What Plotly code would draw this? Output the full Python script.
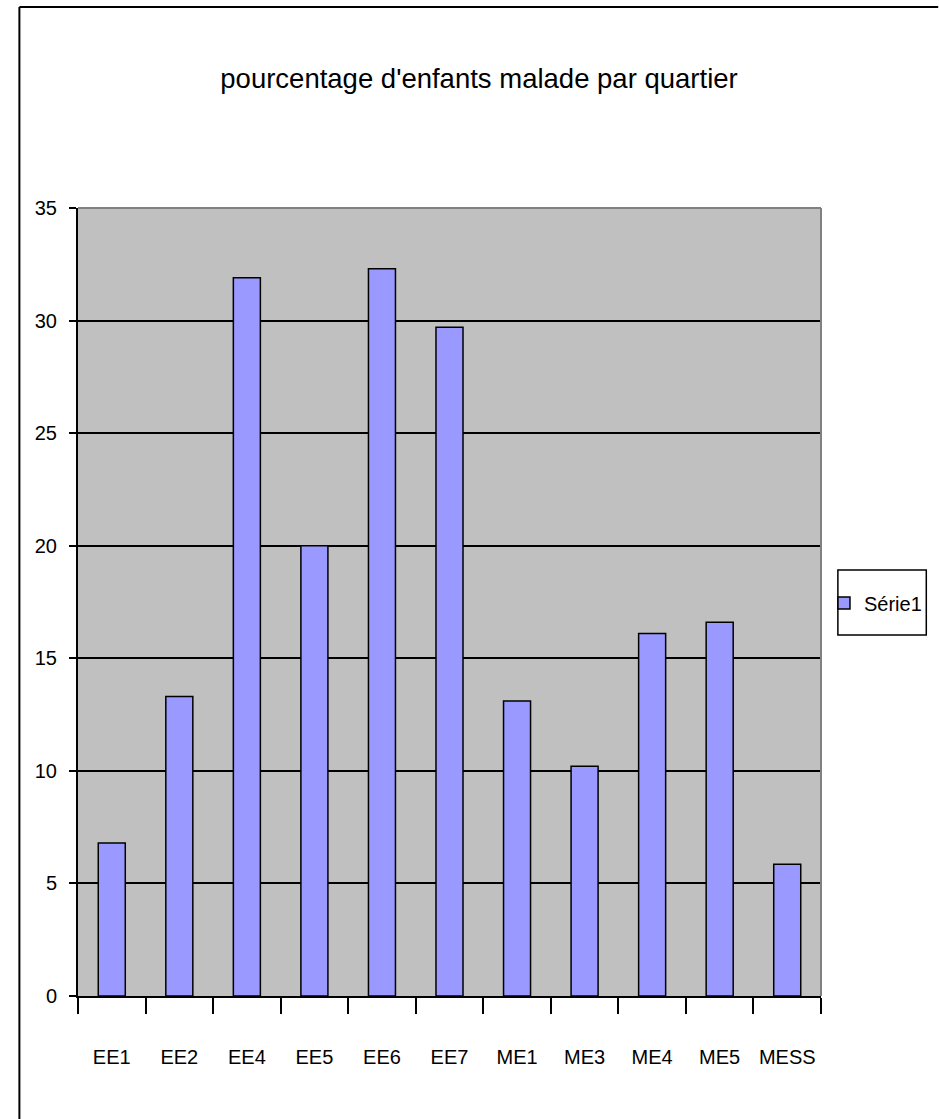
import plotly.graph_objects as go

categories = ["EE1", "EE2", "EE4", "EE5", "EE6", "EE7", "ME1", "ME3", "ME4", "ME5", "MESS"]
values = [6.8, 13.3, 31.9, 20.0, 32.3, 29.7, 13.1, 10.2, 16.1, 16.6, 5.85]
series_name = "Série1"
title_text = "pourcentage d'enfants malade par quartier"
y_ticks = [0, 5, 10, 15, 20, 25, 30, 35]

FONT = "Liberation Sans, Arial, sans-serif"

W, H = 939, 1119
L, R, T, B = 78, 113, 208, 123
pw, ph = W - L - R, H - T - B

def px_x(x):
    return (x - L) / pw

def px_y(y):
    return (H - B - y) / ph

fig = go.Figure()
fig.add_trace(go.Bar(
    x=categories, y=values, name=series_name,
    marker=dict(color="#9999FF", line=dict(color="black", width=1.5)),
    showlegend=True,
))

shapes = [
    dict(type="line", xref="paper", yref="paper", x0=0, x1=1, y0=1, y1=1,
         line=dict(color="#808080", width=2), layer="above"),
    dict(type="line", xref="paper", yref="paper", x0=1, x1=1, y0=0, y1=1,
         line=dict(color="#808080", width=2), layer="above"),
    dict(type="line", xref="paper", yref="paper", x0=px_x(19), x1=px_x(19),
         y0=px_y(7), y1=px_y(H + 5), line=dict(color="black", width=2)),
    dict(type="line", xref="paper", yref="paper", x0=px_x(19), x1=px_x(W + 5),
         y0=px_y(7), y1=px_y(7), line=dict(color="black", width=2)),
    dict(type="rect", xref="paper", yref="paper", x0=px_x(843), x1=px_x(932),
         y0=px_y(635), y1=px_y(570), line=dict(color="black", width=1.5)),
]

fig.update_layout(
    width=W, height=H,
    margin=dict(l=L, r=R, t=T, b=B, pad=0),
    paper_bgcolor="white",
    plot_bgcolor="#C0C0C0",
    bargap=0.6,
    font=dict(family=FONT, color="black", size=20),
    title=dict(text=title_text, x=479 / W, xanchor="center",
               y=1 - 78 / H, yanchor="middle",
               font=dict(family=FONT, size=27.5, color="black")),
    legend=dict(x=px_x(829), xanchor="left", y=px_y(603), yanchor="middle",
                bgcolor="rgba(0,0,0,0)", borderwidth=0,
                font=dict(family=FONT, size=20, color="black"),
                itemwidth=30),
    shapes=shapes,
    xaxis=dict(
        type="category", tickson="boundaries", ticks="outside", ticklen=16,
        tickwidth=1.5, tickcolor="black", showline=True, linecolor="black",
        linewidth=2, showgrid=False, ticklabelstandoff=42, tickangle=0,
        tickfont=dict(family=FONT, size=20, color="black"),
    ),
    yaxis=dict(
        range=[0, 35], tickvals=y_ticks, ticks="outside", ticklen=7,
        tickwidth=1.5, tickcolor="black", showline=True, linecolor="black",
        linewidth=2, showgrid=True, gridcolor="black", gridwidth=2,
        zeroline=False, ticklabelstandoff=8,
        tickfont=dict(family=FONT, size=20, color="black"),
    ),
)

fig.write_html("out.html", config={"displayModeBar": False},
               post_script="document.body.style.margin='0';document.body.style.overflow='hidden';")
